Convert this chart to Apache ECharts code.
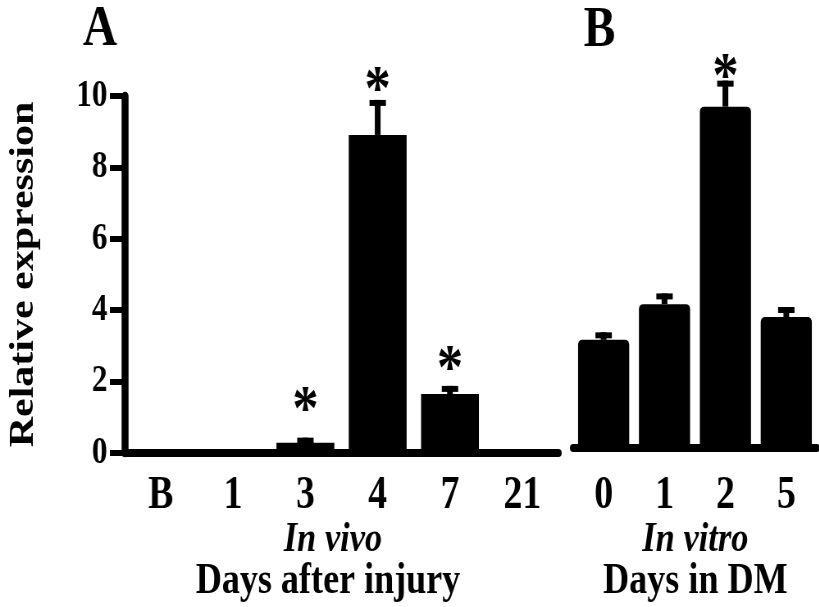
<!DOCTYPE html>
<html>
<head>
<meta charset="utf-8">
<script src="https://cdn.jsdelivr.net/npm/echarts@6/dist/echarts.min.js"></script>
<style>
  html, body { margin: 0; padding: 0; background: #fff; overflow: hidden; }
  #wrap { width: 819px; height: 607px; overflow: hidden; }
  #chart { width: 999px; height: 607px; transform: scaleX(0.82); transform-origin: 0 0; }
</style>
</head>
<body>
<div id="wrap"><div id="chart"></div></div>
<script>
// ---- data ----
var catsA = ['B', '1', '3', '4', '7', '21'];
var valsA = [0.02, 0.02, 0.29, 8.91, 1.65, 0.05];
var errA  = [0, 0, 0.14, 0.98, 0.23, 0];
var starA = [null, null, 1.43, 10.42, 2.6, null];   // asterisk level (data units)

var catsB = ['0', '1', '2', '5'];
var valsB = [3.03, 4.03, 9.56, 3.67];
var errB  = [0.21, 0.30, 0.73, 0.28];
var starB = [null, null, 10.64, null];

var yTicks = [0, 2, 4, 6, 8, 10];

// ---- chart ----
var FONT = "'Liberation Serif', 'Times New Roman', serif";
var chart = echarts.init(document.getElementById('chart'), null, { renderer: 'canvas' });

function errRender(vals, errs, stars) {
  return function (params, api) {
    var i = api.value(0);
    var v = vals[i], e = errs[i], s = stars[i];
    var children = [];
    if (e > 0) {
      var p0 = api.coord([i, v]);
      var p1 = api.coord([i, v + e]);
      children.push({ type: 'rect', shape: { x: p0[0] - 3.5, y: p1[1], width: 7, height: p0[1] - p1[1] }, style: { fill: '#000' } });
      children.push({ type: 'rect', shape: { x: p1[0] - 10, y: p1[1], width: 20, height: 6 }, style: { fill: '#000' } });
    }
    if (s != null) {
      var ps = api.coord([i, s]);
      children.push({ type: 'text', x: ps[0], y: ps[1] + 11,
        style: { text: '*', fill: '#000', font: 'bold 64px ' + FONT, align: 'center', verticalAlign: 'middle' } });
    }
    return { type: 'group', children: children };
  };
}

var option = {
  animation: false,
  backgroundColor: '#fff',
  grid: [
    { left: 148, top: 96, width: 533, height: 357 },
    { left: 699, top: 91, width: 297, height: 357 }
  ],
  xAxis: [
    { type: 'category', gridIndex: 0, data: catsA,
      axisLine: { lineStyle: { color: '#000', width: 8 } },
      axisTick: { show: false },
      axisLabel: { color: '#000', fontFamily: FONT, fontWeight: 'bold', fontSize: 46, margin: 20 } },
    { type: 'category', gridIndex: 1, data: catsB,
      axisLine: { lineStyle: { color: '#000', width: 8 } },
      axisTick: { show: false },
      axisLabel: { color: '#000', fontFamily: FONT, fontWeight: 'bold', fontSize: 46, margin: 25 } }
  ],
  yAxis: [
    { type: 'value', gridIndex: 0, min: yTicks[0], max: yTicks[yTicks.length - 1], interval: 2,
      name: 'Relative expression', nameLocation: 'middle', nameRotate: 90, nameGap: 102,
      nameTextStyle: { color: '#000', fontFamily: FONT, fontWeight: 'bold', fontSize: 42 },
      axisLine: { show: true, lineStyle: { color: '#000', width: 8.5 } },
      axisTick: { show: true, length: 18, lineStyle: { color: '#000', width: 6 } },
      axisLabel: { color: '#000', fontFamily: FONT, fontWeight: 'bold', fontSize: 38, margin: 21 },
      splitLine: { show: false } },
    { type: 'value', gridIndex: 1, min: 0, max: 10, interval: 2, show: false, splitLine: { show: false } }
  ],
  series: [
    { type: 'bar', xAxisIndex: 0, yAxisIndex: 0, data: valsA, barCategoryGap: '20%',
      itemStyle: { color: '#000' } },
    { type: 'custom', xAxisIndex: 0, yAxisIndex: 0, clip: false, z: 5,
      data: catsA.map(function (c, i) { return [i]; }),
      renderItem: errRender(valsA, errA, starA) },
    { type: 'bar', xAxisIndex: 1, yAxisIndex: 1, data: valsB, barCategoryGap: '16%',
      itemStyle: { color: '#000', borderRadius: [5, 5, 0, 0] } },
    { type: 'custom', xAxisIndex: 1, yAxisIndex: 1, clip: false, z: 5,
      data: catsB.map(function (c, i) { return [i]; }),
      renderItem: errRender(valsB, errB, starB) }
  ],
  graphic: [
    { type: 'text', x: 122, y: 30, style: { text: 'A', font: 'bold 58px ' + FONT, fill: '#000', align: 'center', verticalAlign: 'middle' } },
    { type: 'text', x: 731, y: 31, style: { text: 'B', font: 'bold 58px ' + FONT, fill: '#000', align: 'center', verticalAlign: 'middle' } },
    { type: 'text', x: 406, y: 540, style: { text: 'In vivo', font: 'italic bold 42px ' + FONT, fill: '#000', align: 'center', verticalAlign: 'middle' } },
    { type: 'text', x: 400, y: 582, style: { text: 'Days after injury', font: 'bold 44px ' + FONT, fill: '#000', align: 'center', verticalAlign: 'middle' } },
    { type: 'text', x: 848, y: 540, style: { text: 'In vitro', font: 'italic bold 42px ' + FONT, fill: '#000', align: 'center', verticalAlign: 'middle' } },
    { type: 'text', x: 848, y: 582, style: { text: 'Days in DM', font: 'bold 44px ' + FONT, fill: '#000', align: 'center', verticalAlign: 'middle' } }
  ]
};
chart.setOption(option);
</script>
</body>
</html>
